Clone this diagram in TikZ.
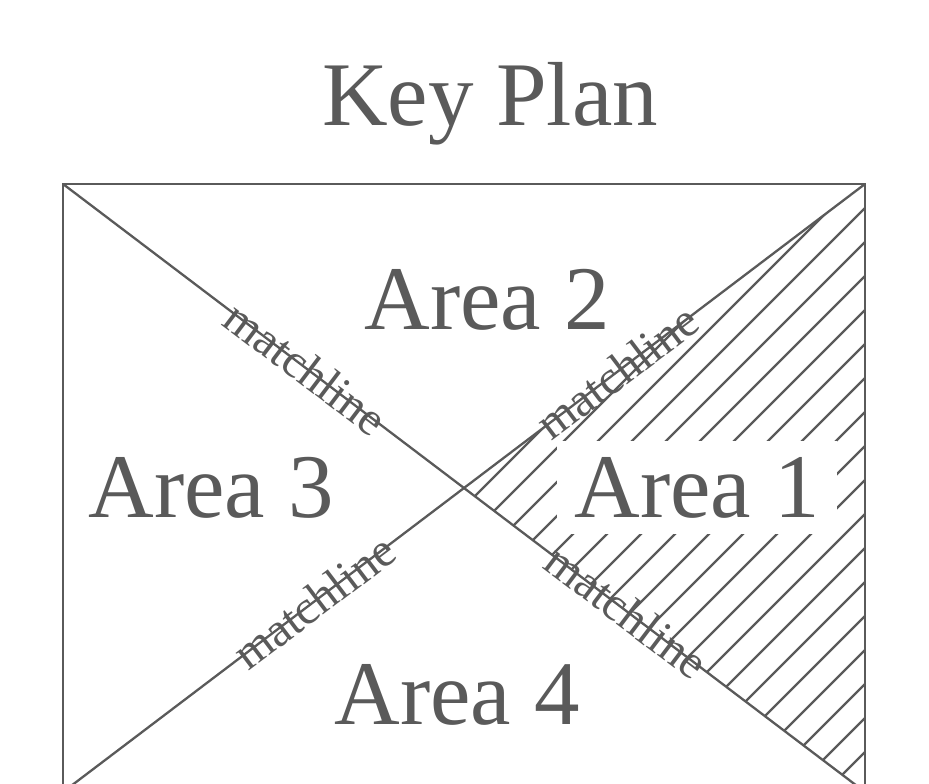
\documentclass[tikz,border=0pt]{standalone}
\usepackage{fontspec}
\setmainfont{Liberation Serif}
\definecolor{plangray}{RGB}{90,90,90}

\begin{document}
\begin{tikzpicture}[x=1bp,y=-1bp,line width=2.3bp,color=plangray,
  area/.style={font=\fontsize{91.3}{100}\selectfont,anchor=base,inner sep=0pt},
  matchline/.style={font=\fontsize{48}{50}\selectfont,sloped,inner sep=0pt}]
  \useasboundingbox (0,0) rectangle (929,784);
  \clip (0,0) rectangle (929,784);
  \coordinate (nw) at (63,184);
  \coordinate (ne) at (865,184);
  \coordinate (sw) at (63,792);
  \coordinate (se) at (865,792);
  \coordinate (mid) at (464,488);
  \begin{scope}
    \clip (mid) -- (ne) -- (se) -- cycle;
    \foreach \c in {971,1005,...,1651}
      \draw (\c-800,800) -- (\c-100,100);
  \end{scope}
  \draw [line width=2.6bp] (nw) rectangle (se);
  \draw (nw) -- (se)
    node [matchline,pos=0.303] (ml1) {matchline}
    node [matchline,pos=0.703] (ml2) {matchline};
  \draw (ne) -- (sw)
    node [matchline,pos=0.309] (ml3) {matchline}
    node [matchline,pos=0.687] (ml4) {matchline};
  \node [area] (title) at (490,125) {Key Plan};
  \node [area] (area2) at (487,329) {Area 2};
  \node [area] (area3) at (211,517) {Area 3};
  \node [area,fill=white,inner xsep=18bp,inner ysep=16bp] (area1) at (697,517) {Area 1};
  \node [area] (area4) at (457,724) {Area 4};
\end{tikzpicture}
\end{document}
